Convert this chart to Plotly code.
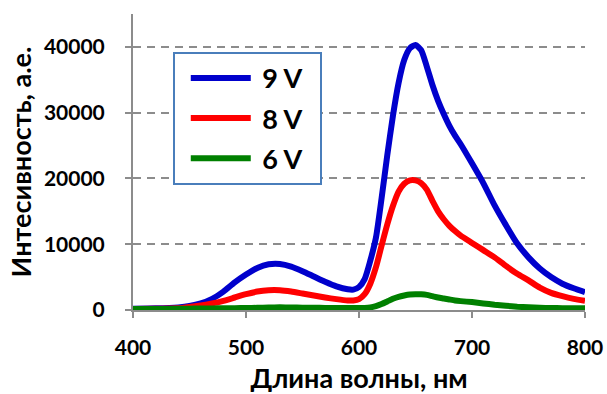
import plotly.graph_objects as go

wavelength = [400, 420, 440, 450, 460, 470, 480, 490, 500, 510, 520, 530, 540, 550, 560, 570,
              580, 590, 595, 600, 605, 610, 615, 620, 625, 630, 635, 640, 645, 650, 655, 660,
              665, 670, 675, 680, 685, 690, 700, 710, 720, 730, 740, 750, 760, 770, 780, 790, 800]

v9 = [200, 250, 400, 600, 1000, 1700, 2800, 4200, 5400, 6400, 6950, 7000, 6600, 5900, 5100, 4300,
      3600, 3150, 3100, 3500, 4700, 7500, 11000, 17000, 23500, 29500, 34500, 38000, 39800, 40300, 39500, 37000,
      34200, 31800, 29800, 28000, 26500, 25200, 22300, 19300, 15900, 12900, 10100, 8000, 6300, 5000, 4000, 3300, 2700]

v8 = [150, 180, 250, 450, 700, 1000, 1400, 1900, 2400, 2800, 3000, 3000, 2800, 2500, 2200, 1900,
      1650, 1450, 1450, 1650, 2400, 4000, 6500, 9800, 13000, 15800, 18000, 19200, 19700, 19700, 19300, 18300,
      16600, 15000, 13800, 12800, 12000, 11300, 10200, 9100, 8000, 6700, 5500, 4500, 3400, 2600, 2100, 1700, 1400]

v6 = [150, 160, 180, 200, 220, 240, 260, 280, 300, 330, 370, 400, 390, 360, 340, 320,
      300, 300, 300, 300, 320, 400, 600, 900, 1300, 1700, 2000, 2200, 2350, 2400, 2380, 2300,
      2100, 1900, 1750, 1600, 1450, 1350, 1200, 1000, 800, 650, 500, 400, 330, 300, 280, 260, 250]

series = [("9 V", v9, "#0000cc"), ("8 V", v8, "#ff0000"), ("6 V", v6, "#008000")]

y_ticks = [0, 10000, 20000, 30000, 40000]
x_ticks = [400, 500, 600, 700, 800]

FONT = "Lato"
NB = "\u00a0"

fig = go.Figure()
for i, (name, vals, col) in enumerate(series):
    fig.add_trace(go.Scatter(
        x=wavelength, y=vals, name=NB + name + NB * 2, mode="lines",
        line=dict(color=col, width=6, shape="spline", smoothing=0.6),
        legendgroup=f"g{i}", hoverinfo="skip",
    ))

fig.update_layout(
    width=607, height=394,
    margin=dict(l=133, r=22, t=14, b=84),
    paper_bgcolor="white", plot_bgcolor="white",
    font=dict(family=FONT, size=21, color="black", weight="bold"),
    showlegend=True,
    legend=dict(
        x=0.088, y=0.872, xanchor="left", yanchor="top",
        bgcolor="white", bordercolor="#4a7ebb", borderwidth=2,
        font=dict(family=FONT, size=27, color="black", weight="bold"),
        itemwidth=60, tracegroupgap=2, traceorder="grouped", indentation=11,
    ),
    xaxis=dict(
        range=[400, 800], tickvals=x_ticks, ticktext=[str(v) for v in x_ticks],
        showline=True, linecolor="#8c8c8c", linewidth=2,
        ticks="outside", ticklen=6, tickwidth=2, tickcolor="#8c8c8c",
        showgrid=False, zeroline=False, ticklabelstandoff=12,
        title=dict(text="Длина волны, нм", font=dict(family=FONT, size=27, weight="bold"), standoff=14),
        automargin=False,
    ),
    yaxis=dict(
        range=[0, 45000], tickvals=y_ticks, ticktext=[str(v) for v in y_ticks],
        showline=True, linecolor="#8c8c8c", linewidth=2,
        ticks="outside", ticklen=6, tickwidth=2, tickcolor="#8c8c8c",
        showgrid=True, gridcolor="#8c8c8c", gridwidth=2, griddash="8px,6px",
        zeroline=False, ticklabelstandoff=16,
        title=dict(text="Интесивность, а.е.", font=dict(family=FONT, size=27, weight="bold"), standoff=4),
        automargin=False,
    ),
)

fig.write_html("out.html")
